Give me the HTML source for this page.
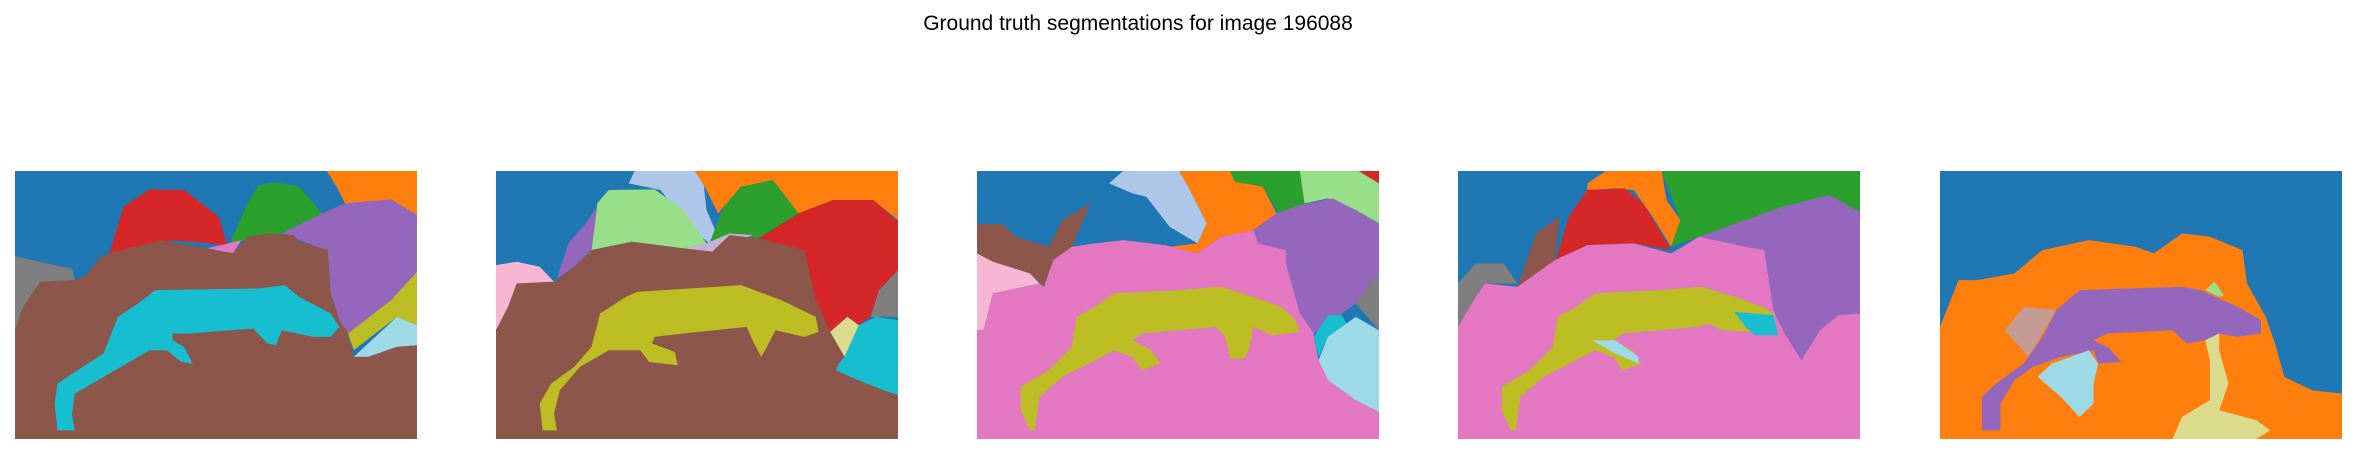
<!DOCTYPE html>
<html><head><meta charset="utf-8"><style>
body{margin:0;background:#fff;width:2355px;height:454px;position:relative;overflow:hidden;font-family:"Liberation Sans",sans-serif}
#title{position:absolute;top:12px;left:0;width:2276px;text-align:center;font-size:21px;color:#000}
svg{position:absolute;top:171px;height:268px;width:402px}
</style></head><body>
<div id="title">Ground truth segmentations for image 196088</div>

<svg style="left:15px" viewBox="26 63 699 803" preserveAspectRatio="none">
<rect x="26" y="63" width="699" height="803" fill="#1f77b4"/>
<polygon fill="#ff7f0e" points="568,63 725,63 725,195 680,150 600,160 585,110"/>
<polygon fill="#d62728" points="190,310 215,170 260,118 320,120 380,200 395,285 300,270"/>
<polygon fill="#2ca02c" points="400,280 430,160 450,105 480,97 520,110 560,190 490,250"/>
<polygon fill="#9467bd" points="490,250 560,190 600,160 680,148 725,195 725,365 680,450 640,540 605,550 590,510 575,430 565,300"/>
<polygon fill="#7f7f7f" points="26,318 80,340 125,355 130,390 70,395 40,470 26,540"/>
<polygon fill="#bcbd22" points="605,550 680,450 725,365 725,525 690,500 615,600"/>
<polygon fill="#9edae5" points="615,620 690,500 725,525 725,585 690,590 640,620"/>
<polygon fill="#e377c2" points="360,295 390,283 420,270 405,310"/>
<polygon fill="#8c564b" points="26,866 26,540 40,470 70,395 130,390 150,375 175,320 190,310 280,270 360,295 405,310 430,260 465,250 510,255 520,275 570,300 575,430 590,510 605,550 615,620 640,620 690,590 725,585 725,866"/>
<polygon fill="#17becf" points="100,840 95,760 100,700 130,665 180,610 205,500 240,460 270,420 450,415 495,405 520,440 575,490 590,530 575,560 545,560 490,540 480,585 465,580 440,535 330,550 300,550 300,570 320,590 335,640 315,635 290,600 260,600 220,640 170,690 130,730 125,790 130,840"/>
</svg>

<svg style="left:496px" viewBox="864 63 699 803" preserveAspectRatio="none">
<rect x="864" y="63" width="699" height="803" fill="#1f77b4"/>
<polygon fill="#aec7e8" points="1105,63 1210,63 1225,100 1230,180 1250,260 1235,280 1200,230 1150,120 1095,100"/>
<polygon fill="#ff7f0e" points="1210,63 1563,63 1563,210 1520,150 1450,150 1390,190 1350,100 1290,110 1250,190 1230,120"/>
<polygon fill="#2ca02c" points="1235,280 1260,170 1290,110 1345,90 1390,190 1320,265 1280,250"/>
<polygon fill="#98df8a" points="1030,300 1040,160 1060,120 1140,118 1190,180 1230,280 1190,295 1100,275"/>
<polygon fill="#9467bd" points="970,385 990,280 1020,220 1040,170 1030,300 1000,350"/>
<polygon fill="#f7b6d2" points="864,540 864,345 900,335 940,350 965,395 900,400 885,470"/>
<polygon fill="#d62728" points="1320,265 1390,190 1450,150 1520,150 1563,215 1563,360 1530,420 1515,500 1495,525 1475,500 1445,545 1420,450 1400,300"/>
<polygon fill="#7f7f7f" points="1515,500 1530,420 1563,360 1563,500"/>
<polygon fill="#dbdb8d" points="1445,545 1475,500 1495,525 1470,620"/>
<polygon fill="#17becf" points="1460,640 1470,620 1495,525 1525,500 1563,510 1563,735 1530,715 1480,680 1455,660"/>
<polygon fill="#c5b0d5" points="1190,295 1230,280 1270,250 1310,255 1240,305"/>
<polygon fill="#8c564b" points="864,866 864,540 885,470 900,400 965,395 1000,350 1030,300 1100,275 1190,295 1240,305 1270,255 1320,265 1400,300 1420,450 1445,545 1470,620 1460,640 1455,660 1480,680 1530,715 1563,735 1563,866"/>
<polygon fill="#bcbd22" points="945,840 940,760 960,700 1000,650 1030,590 1045,490 1090,440 1110,425 1290,405 1360,450 1420,500 1425,545 1400,560 1350,540 1335,590 1325,620 1310,570 1300,530 1190,550 1140,560 1135,580 1175,605 1180,645 1155,640 1130,635 1115,600 1060,600 1010,650 975,720 965,790 970,840"/>
</svg>

<svg style="left:977px" viewBox="83 63 432 803" preserveAspectRatio="none">
<rect x="83" y="63" width="432" height="803" fill="#1f77b4"/>
<polygon fill="#8c564b" points="83,222 110,222 125,260 160,290 175,210 205,160 185,290 165,330 155,410 140,370 100,335 83,310"/>
<polygon fill="#f7b6d2" points="83,310 100,335 140,370 150,400 100,430 90,540 83,540"/>
<polygon fill="#aec7e8" points="225,100 240,63 300,63 310,110 330,220 320,280 290,230 265,140 250,130"/>
<polygon fill="#ff7f0e" points="300,63 355,63 360,95 390,110 405,190 380,240 345,260 320,310 290,290 320,280 330,220 310,110"/>
<polygon fill="#2ca02c" points="355,63 435,63 435,160 410,200 390,110 360,95"/>
<polygon fill="#98df8a" points="430,63 495,63 515,95 515,220 490,180 460,145 435,160"/>
<polygon fill="#d62728" points="493,63 515,63 515,100"/>
<polygon fill="#9467bd" points="380,240 405,190 430,165 465,145 490,180 515,220 515,370 490,460 470,500 445,550 430,490 415,340 415,300 385,280"/>
<polygon fill="#7f7f7f" points="490,460 515,370 515,540"/>
<polygon fill="#17becf" points="445,560 460,495 475,495 480,520 460,560 450,620"/>
<polygon fill="#9edae5" points="450,630 460,560 480,520 490,500 515,540 515,785 490,750 460,690"/>
<polygon fill="#e377c2" points="83,866 83,540 90,540 100,430 150,400 155,410 165,330 185,290 210,280 240,270 285,285 320,310 345,260 380,240 385,280 415,300 415,340 430,490 445,550 445,560 450,630 460,690 490,750 515,785 515,866"/>
<polygon fill="#bcbd22" points="140,840 130,780 130,710 160,660 185,590 190,500 210,470 230,430 300,420 345,410 380,440 410,470 425,510 430,545 400,555 380,530 375,600 370,625 355,625 350,560 340,530 260,550 250,570 270,600 280,640 260,660 250,620 230,600 210,630 175,680 150,740 145,840"/>
</svg>

<svg style="left:1458px" viewBox="601 63 432 803" preserveAspectRatio="none">
<rect x="601" y="63" width="432" height="803" fill="#1f77b4"/>
<polygon fill="#ff7f0e" points="740,100 760,63 820,63 825,150 840,210 830,290 810,200 790,120 770,115 740,120"/>
<polygon fill="#2ca02c" points="820,63 1033,63 1033,185 1000,135 950,170 900,230 860,260 830,290 840,210"/>
<polygon fill="#d62728" points="705,340 720,200 740,120 780,115 800,160 830,300 790,280 740,285"/>
<polygon fill="#8c564b" points="665,410 685,250 710,200 705,330 680,380"/>
<polygon fill="#7f7f7f" points="601,530 601,400 620,340 650,340 665,400 630,400 620,440"/>
<polygon fill="#9467bd" points="860,260 950,170 1000,135 1033,185 1033,490 1010,495 990,540 970,630 950,540 940,480 930,300 910,290"/>
<polygon fill="#e377c2" points="601,866 601,530 620,440 630,400 665,410 680,380 705,330 740,285 790,280 830,310 860,260 910,290 930,300 940,480 950,540 970,630 990,540 1010,495 1033,490 1033,866"/>
<polygon fill="#bcbd22" points="658,840 648,780 648,710 678,660 703,590 708,500 728,470 748,430 818,420 863,410 898,440 928,470 943,495 900,490 910,530 920,545 885,540 870,520 858,530 778,550 768,570 788,600 798,640 778,660 768,620 748,600 728,630 693,680 668,740 663,840"/>
<polygon fill="#17becf" points="898,485 940,495 945,555 920,555 910,530"/>
<polygon fill="#9edae5" points="745,570 770,570 795,620 795,640 770,610"/>
</svg>

<svg style="left:1940px" viewBox="1120 63 432 803" preserveAspectRatio="none">
<rect x="1120" y="63" width="432" height="803" fill="#1f77b4"/>
<polygon fill="#ff7f0e" points="1120,866 1120,530 1140,390 1160,390 1200,370 1230,300 1280,270 1330,290 1350,310 1380,250 1410,260 1445,300 1450,400 1470,500 1480,580 1490,680 1520,720 1552,730 1552,866"/>
<polygon fill="#c49c94" points="1190,540 1210,470 1245,480 1215,620"/>
<polygon fill="#9467bd" points="1165,840 1165,740 1180,700 1210,640 1230,560 1245,480 1270,420 1320,415 1380,410 1400,420 1440,470 1465,510 1465,550 1440,560 1420,550 1405,570 1385,580 1370,540 1300,550 1285,570 1300,590 1315,635 1290,640 1285,600 1270,610 1250,620 1220,650 1200,690 1185,760 1185,840"/>
<polygon fill="#9edae5" points="1225,680 1240,640 1280,600 1290,640 1285,700 1285,760 1270,800 1250,740"/>
<polygon fill="#dbdb8d" points="1405,570 1420,550 1420,600 1430,700 1420,780 1460,810 1475,840 1460,866 1370,866 1380,800 1410,750 1410,630"/>
<polygon fill="#98df8a" points="1405,420 1415,395 1425,435 1420,440"/>
</svg>
</body></html>
